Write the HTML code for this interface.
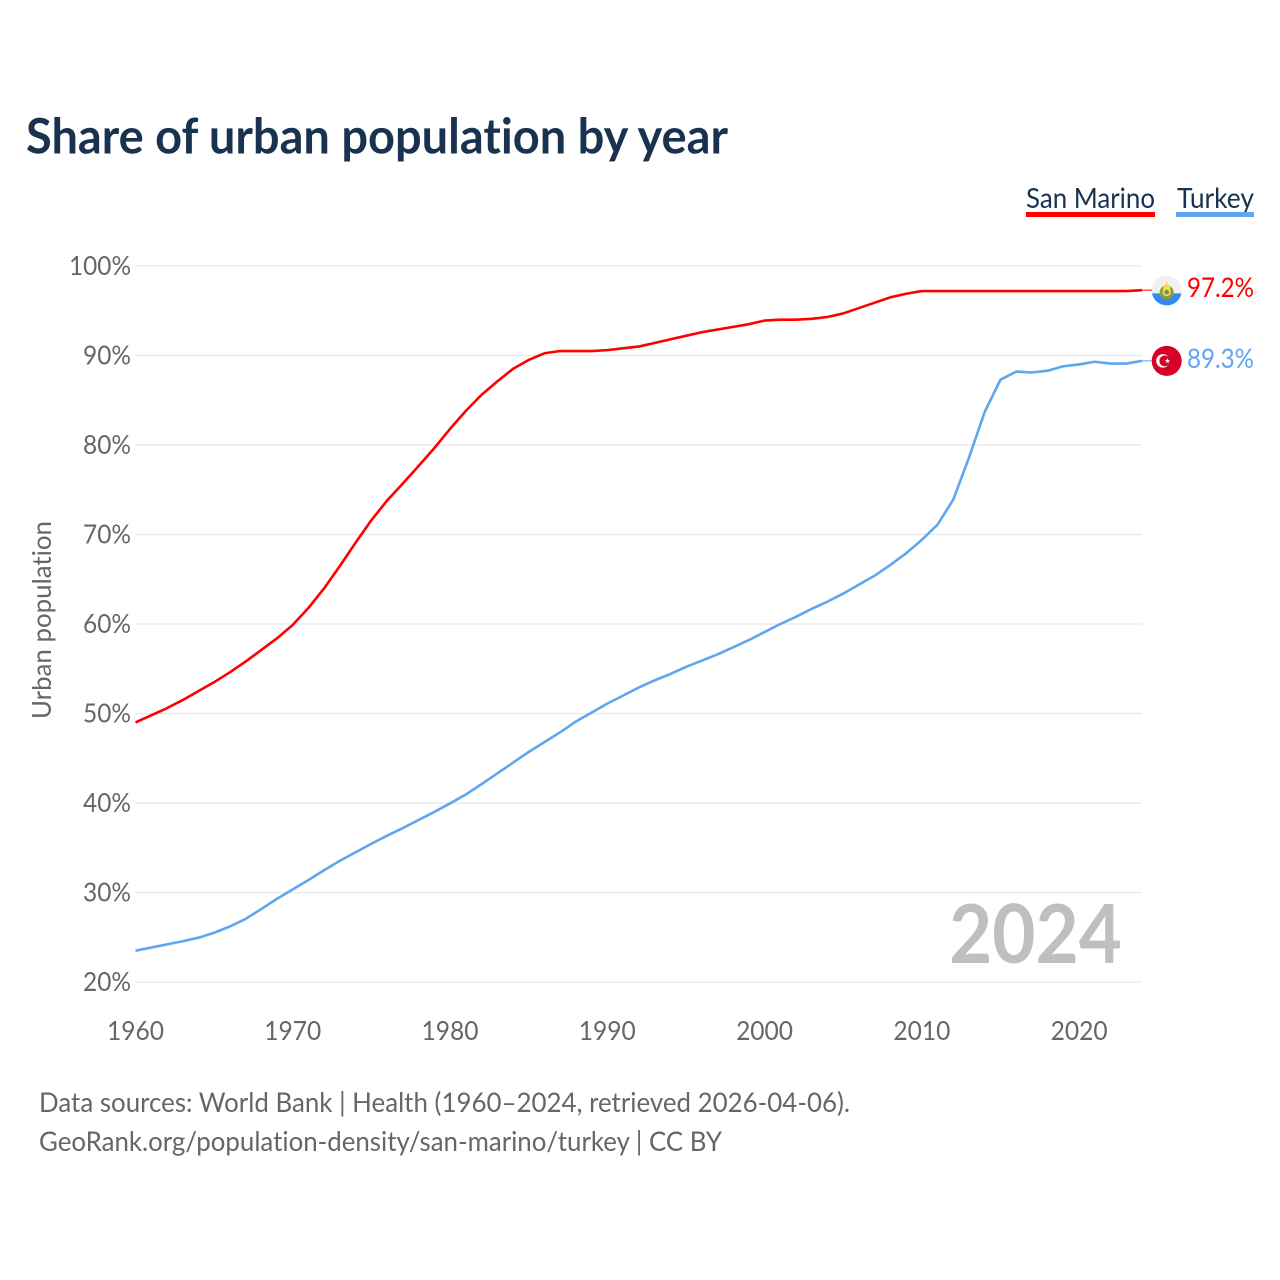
<!DOCTYPE html>
<html lang="en">
<head>
<meta charset="utf-8">
<title>Share of urban population by year</title>
<style>
html,body{margin:0;padding:0;background:#fff;width:1280px;height:1280px;overflow:hidden}
svg{display:block}
text{font-family:"Lato","Carlito","Liberation Sans",sans-serif;font-variant-ligatures:none}
</style>
</head>
<body>
<svg id="chart" width="1280" height="1280" viewBox="0 0 1280 1280" xmlns="http://www.w3.org/2000/svg">
  <rect x="0" y="0" width="1280" height="1280" fill="#fff"/>
  <text x="26" y="153.5" font-size="48.5" font-weight="700" fill="#18324f" textLength="702" lengthAdjust="spacingAndGlyphs">Share of urban population by year</text>

  <g>
    <g>
      <text x="1026" y="208" font-size="28" fill="#18324f" textLength="129" lengthAdjust="spacingAndGlyphs">San Marino</text>
      <rect x="1026" y="212" width="129" height="5" fill="#ff0000"/>
    </g>
    <g>
      <text x="1177" y="208" font-size="28" fill="#18324f" textLength="77" lengthAdjust="spacingAndGlyphs">Turkey</text>
      <rect x="1176" y="212" width="78" height="5" fill="#60a5ee"/>
    </g>
  </g>

  <g id="grid"></g>
  <g id="yticks"></g>
  <g id="xticks"></g>

  <text transform="translate(51,620) rotate(-90)" text-anchor="middle" font-size="26.3" fill="#666666" textLength="198" lengthAdjust="spacingAndGlyphs">Urban population</text>

  <text x="949" y="963" font-size="81" font-weight="700" fill="#bfbfbf" textLength="173" lengthAdjust="spacingAndGlyphs">2024</text>

  <g id="series"></g>
  <g id="endmarks"></g>

  <text x="39" y="1112" font-size="27" fill="#666666" textLength="811" lengthAdjust="spacingAndGlyphs">Data sources: World Bank | Health (1960–2024, retrieved 2026-04-06).</text>
  <text x="39" y="1151" font-size="27" fill="#666666" textLength="683" lengthAdjust="spacingAndGlyphs">GeoRank.org/population-density/san-marino/turkey | CC BY</text>
</svg>

<script>
const years = [1960,1961,1962,1963,1964,1965,1966,1967,1968,1969,1970,1971,1972,1973,1974,1975,1976,1977,1978,1979,1980,1981,1982,1983,1984,1985,1986,1987,1988,1989,1990,1991,1992,1993,1994,1995,1996,1997,1998,1999,2000,2001,2002,2003,2004,2005,2006,2007,2008,2009,2010,2011,2012,2013,2014,2015,2016,2017,2018,2019,2020,2021,2022,2023,2024];
const sanMarinoValues = [49.0,49.8,50.6,51.5,52.5,53.5,54.6,55.8,57.1,58.4,59.9,61.8,64.0,66.5,69.1,71.6,73.8,75.7,77.65,79.65,81.8,83.8,85.6,87.1,88.5,89.5,90.25,90.5,90.5,90.5,90.6,90.8,91.0,91.4,91.8,92.2,92.6,92.9,93.2,93.5,93.9,94.0,94.0,94.1,94.3,94.7,95.3,95.9,96.5,96.9,97.2,97.2,97.2,97.2,97.2,97.2,97.2,97.2,97.2,97.2,97.2,97.2,97.2,97.2,97.3];
const turkeyValues = [23.5,23.85,24.2,24.55,24.95,25.5,26.2,27.05,28.15,29.3,30.35,31.4,32.5,33.55,34.5,35.45,36.35,37.2,38.1,39.0,39.95,40.95,42.1,43.3,44.5,45.7,46.8,47.9,49.1,50.1,51.1,52.0,52.9,53.7,54.4,55.2,55.9,56.6,57.4,58.2,59.1,60.0,60.8,61.7,62.5,63.4,64.4,65.4,66.6,67.9,69.4,71.1,73.9,78.6,83.7,87.3,88.2,88.1,88.3,88.8,89.0,89.3,89.1,89.1,89.4];
const yTickValues = [20,30,40,50,60,70,80,90,100];
const yTickLabels = ["20%","30%","40%","50%","60%","70%","80%","90%","100%"];
const xTickValues = [1960,1970,1980,1990,2000,2010,2020];
const xTickLabels = ["1960","1970","1980","1990","2000","2010","2020"];
const endLabels = ["97.2%","89.3%"];

const NS = 'http://www.w3.org/2000/svg';
const xDomain = [1960, 2024], xRange = [135.5, 1142];
const yDomain = [20, 100], yRange = [982, 266];
function xScale(v){ return xRange[0] + (v - xDomain[0]) / (xDomain[1] - xDomain[0]) * (xRange[1] - xRange[0]); }
function yScale(v){ return yRange[0] + (v - yDomain[0]) / (yDomain[1] - yDomain[0]) * (yRange[1] - yRange[0]); }
function make(tag, attrs, parent){
  const el = document.createElementNS(NS, tag);
  for (const k in attrs) el.setAttribute(k, attrs[k]);
  parent.appendChild(el);
  return el;
}

const grid = document.getElementById('grid');
const yticks = document.getElementById('yticks');
const xticks = document.getElementById('xticks');
const series = document.getElementById('series');
const endmarks = document.getElementById('endmarks');

yTickValues.forEach(function(v, i){
  const line = make('line', {x1: xRange[0], x2: xRange[1], y1: yScale(v), y2: yScale(v), stroke: '#e8e8e8', 'stroke-width': 1.3}, grid);
  
  
  const t = make('text', {x: 131, y: yScale(v) + 9, 'text-anchor': 'end', 'font-size': 26.3, fill: '#666666', textLength: v === 100 ? 62 : 48, lengthAdjust: 'spacingAndGlyphs'}, yticks);
  t.textContent = yTickLabels[i];
  
  
});

xTickValues.forEach(function(v, i){
  const t = make('text', {x: xScale(v), y: 1040, 'text-anchor': 'middle', 'font-size': 26.3, fill: '#666666', textLength: 57, lengthAdjust: 'spacingAndGlyphs'}, xticks);
  t.textContent = xTickLabels[i];
  
  
});

function linePoints(values){
  return values.map(function(v, i){ return xScale(years[i]).toFixed(2) + ',' + yScale(v).toFixed(2); }).join(' ');
}

const redLine = make('polyline', {points: linePoints(sanMarinoValues), fill: 'none', stroke: '#ff0000', 'stroke-width': 2.6, 'stroke-linejoin': 'round'}, series);



const blueLine = make('polyline', {points: linePoints(turkeyValues), fill: 'none', stroke: '#60a5ee', 'stroke-width': 2.6, 'stroke-linejoin': 'round'}, series);



/* San Marino end marker */
const smLast = yScale(sanMarinoValues[sanMarinoValues.length - 1]);
const smX = xScale(2024);
const smLeader = make('line', {x1: smX, x2: smX + 10, y1: smLast, y2: smLast, stroke: '#ff0000', 'stroke-width': 1}, endmarks);


const smFlag = make('g', {transform: 'translate(' + (smX + 24.7) + ',' + (smLast + 0.7) + ')'}, endmarks);


make('circle', {cx: 0, cy: 0, r: 15, fill: '#f0f0f0'}, smFlag);
make('path', {d: 'M-14.7,2.5 A15,15 0 0 0 14.7,2.5 Z', fill: '#338af3'}, smFlag);
make('circle', {cx: 0, cy: 1.5, r: 7, fill: '#8f9e32'}, smFlag);
make('path', {d: 'M-3.4,-1 L-3.6,-5.5 L-1.7,-4.5 L0,-10 L1.7,-4.5 L3.6,-5.5 L3.4,-1 Z', fill: '#ffda44'}, smFlag);
make('circle', {cx: 0, cy: 1, r: 4.2, fill: '#ffda44'}, smFlag);
make('circle', {cx: 0, cy: 1.2, r: 2.3, fill: '#4f9a7a'}, smFlag);
const smLabel = make('text', {x: 1187, y: smLast + 7, 'font-size': 27.5, fill: '#ff0000', textLength: 67, lengthAdjust: 'spacingAndGlyphs'}, endmarks);
smLabel.textContent = endLabels[0];



/* Turkey end marker */
const trLast = yScale(turkeyValues[turkeyValues.length - 1]);
const trX = xScale(2024);
const trLeader = make('line', {x1: trX, x2: trX + 10, y1: trLast, y2: trLast, stroke: '#60a5ee', 'stroke-width': 1}, endmarks);


const trFlag = make('g', {transform: 'translate(' + (trX + 24.7) + ',' + trLast + ')'}, endmarks);


make('circle', {cx: 0, cy: 0, r: 15, fill: '#d80027'}, trFlag);
make('circle', {cx: -3.7, cy: 0, r: 6.8, fill: '#ffffff'}, trFlag);
make('circle', {cx: -1.9, cy: 0, r: 5.4, fill: '#d80027'}, trFlag);
make('polygon', {points: '0.8,-2.8 1.5,-0.8 3.6,-0.8 1.9,0.4 2.5,2.4 0.8,1.2 -0.9,2.4 -0.3,0.4 -2,-0.8 0.1,-0.8', fill: '#ffffff'}, trFlag);
const trLabel = make('text', {x: 1187, y: trLast + 7, 'font-size': 27.5, fill: '#60a5ee', textLength: 67, lengthAdjust: 'spacingAndGlyphs'}, endmarks);
trLabel.textContent = endLabels[1];


</script>
</body>
</html>
